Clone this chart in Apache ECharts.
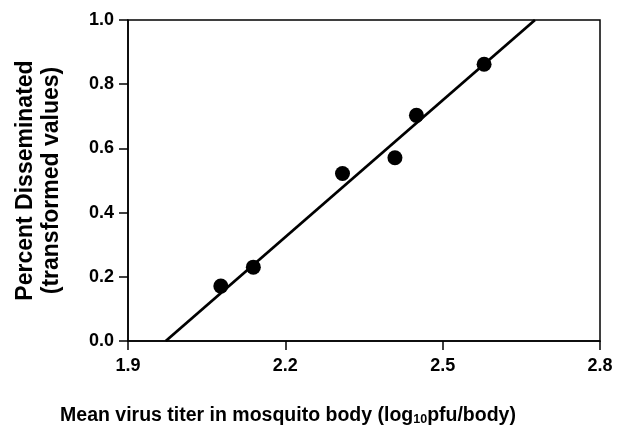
<!DOCTYPE html>
<html><head><meta charset="utf-8">
<script src="https://cdn.jsdelivr.net/npm/echarts@6/dist/echarts.min.js"></script>
<style>html,body{margin:0;padding:0;background:#fff}#c{width:632px;height:427px}</style>
</head><body><div id="c"></div>
<script>
var titerX = [2.077, 2.139, 2.309, 2.409, 2.450, 2.579];
var dissemY = [0.171, 0.230, 0.522, 0.571, 0.703, 0.862];
var fitX = [1.972, 2.676];
var fitY = [0.0, 1.0];
var xTicks = [1.9, 2.2, 2.5, 2.8];
var yTicks = [0.0, 0.2, 0.4, 0.6, 0.8, 1.0];

var pts = titerX.map(function (x, i) { return [x, dissemY[i]]; });
var fit = fitX.map(function (x, i) { return [x, fitY[i]]; });
var FONT = '"Liberation Sans", Arial, sans-serif';

var chart = echarts.init(document.getElementById('c'), null, {renderer: 'canvas'});
chart.setOption({
  animation: false,
  backgroundColor: '#fff',
  title: {
    text: 'Mean virus titer in mosquito body (log{sub|10}pfu/body)',
    left: 283, top: 400, textAlign: 'center',
    textStyle: {
      fontFamily: FONT, fontWeight: 'bold', fontSize: 19.5, color: '#000',
      rich: { sub: { fontFamily: FONT, fontWeight: 'bold', fontSize: 12.5, color: '#000', verticalAlign: 'bottom', padding: [8, 0, 0, 0] } }
    }
  },
  grid: { left: 128, right: 32, top: 20, bottom: 86, show: true, borderColor: '#000', borderWidth: 1.5, backgroundColor: 'transparent' },
  xAxis: {
    type: 'value', min: 1.9, max: 2.8, interval: 0.3,
    axisLine: { show: true, lineStyle: { color: '#000', width: 1.5 } },
    axisTick: { show: true, inside: false, length: 9, lineStyle: { color: '#000', width: 1.5 } },
    splitLine: { show: false },
    axisLabel: { fontFamily: FONT, fontWeight: 'bold', fontSize: 18, color: '#000', margin: 16,
      formatter: function (v) { var t = xTicks.find(function (k) { return Math.abs(k - v) < 1e-6; }); return t !== undefined ? t.toFixed(1) : ''; } }
  },
  yAxis: {
    type: 'value', min: 0, max: 1.0, interval: 0.2,
    name: 'Percent Disseminated\n(transformed values)', nameLocation: 'middle', nameRotate: 90, nameGap: 63,
    nameTextStyle: { fontFamily: FONT, fontWeight: 'bold', fontSize: 23, color: '#000', lineHeight: 26 },
    axisLine: { show: true, lineStyle: { color: '#000', width: 1.5 } },
    axisTick: { show: true, inside: false, length: 9, lineStyle: { color: '#000', width: 1.5 } },
    splitLine: { show: false },
    axisLabel: { fontFamily: FONT, fontWeight: 'bold', fontSize: 18, color: '#000', margin: 14,
      formatter: function (v) { var t = yTicks.find(function (k) { return Math.abs(k - v) < 1e-6; }); return t !== undefined ? t.toFixed(1) : ''; } }
  },
  series: [
    { type: 'line', data: fit, symbol: 'none', lineStyle: { color: '#000', width: 2.8 }, z: 2 },
    { type: 'scatter', data: pts, symbol: 'circle', symbolSize: 15, itemStyle: { color: '#000', opacity: 1 }, z: 3 }
  ]
});
</script></body></html>
